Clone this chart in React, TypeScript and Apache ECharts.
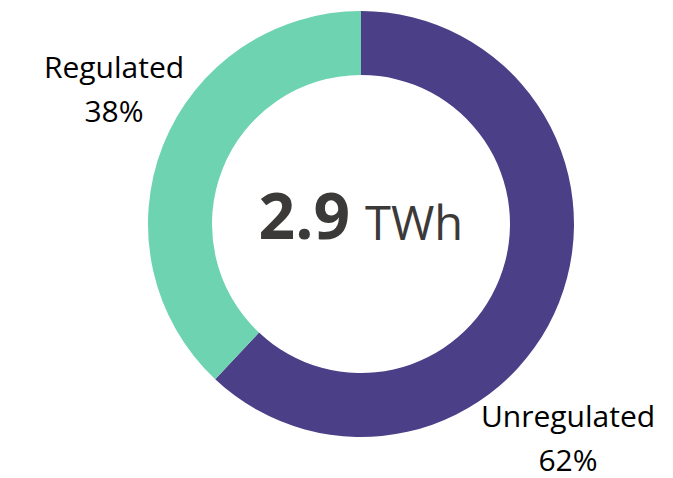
import React, { useEffect, useRef } from "react";
import * as echarts from "echarts";

const categories = ["Unregulated", "Regulated"];
const shares = [62, 38];
const colors = ["#4b3f88", "#6dd3b1"];
const totalValue = "2.9";
const totalUnit = "TWh";

export default function App() {
  const ref = useRef<HTMLDivElement>(null);
  useEffect(() => {
    document.body.style.margin = "0";
    const chart = echarts.init(ref.current!, null, { renderer: "svg" });
    const labelPos = [
      { x: 568, y1: 415, y2: 459 },
      { x: 114, y1: 66, y2: 110 },
    ];
    const labelStyle = {
      align: "center",
      verticalAlign: "middle",
      fontFamily: "Open Sans",
      fontSize: 30,
      lineHeight: 34,
      fill: "#000000",
    };
    const labelTexts: any[] = [];
    categories.forEach((c, i) => {
      labelTexts.push({
        type: "text",
        style: { ...labelStyle, x: labelPos[i].x, y: labelPos[i].y1, text: c },
      });
      labelTexts.push({
        type: "text",
        style: { ...labelStyle, x: labelPos[i].x, y: labelPos[i].y2, text: `${shares[i]}%` },
      });
    });
    chart.setOption({
      animation: false,
      backgroundColor: "#ffffff",
      graphic: [
        {
          type: "text",
          style: {
            x: 350,
            y: 214,
            text: totalValue,
            align: "right",
            verticalAlign: "middle",
            fontFamily: "Open Sans",
            fontWeight: "bold",
            fontSize: 64,
            fill: "#3b3a39",
          },
        },
        {
          type: "text",
          style: {
            x: 365,
            y: 222,
            text: totalUnit,
            align: "left",
            verticalAlign: "middle",
            fontFamily: "Open Sans",
            fontSize: 47,
            fill: "#3b3a39",
          },
        },
        ...labelTexts,
      ],
      series: [
        {
          type: "pie",
          center: [361, 224],
          radius: [149, 213],
          startAngle: 90,
          clockwise: true,
          silent: true,
          data: categories.map((c, i) => ({
            name: c,
            value: shares[i],
            itemStyle: { color: colors[i] },
          })),
          label: { show: false },
          labelLine: { show: false },
        },
      ],
    });
    return () => chart.dispose();
  }, []);
  return <div ref={ref} style={{ width: 673, height: 478 }} />;
}
